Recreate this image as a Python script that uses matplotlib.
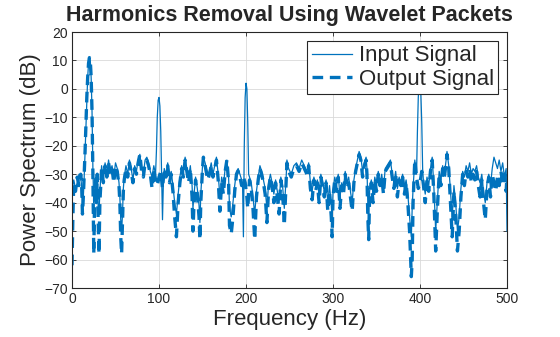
import matplotlib.pyplot as plt

plt.rcParams['font.family'] = ['Liberation Sans', 'DejaVu Sans']

# power spectrum readings as (Hz, dB) pairs
input_points = [
    (0, -36), (1, -34), (2, -32), (4, -35), (6, -33), (8, -30), (10, -31), (11, -34), (12, -41),
    (13, -38), (14, -31), (15, -22), (16, -12), (17, -3), (18, 4), (19, 9), (20, 11), (21, 10),
    (22, 4), (23, -8), (24, -28), (25, -40), (26, -36), (27, -31), (28, -38), (29, -30), (30, -41),
    (31, -44), (32, -36), (34, -27), (36, -32), (38, -26), (40, -30), (42, -25), (44, -29),
    (46, -27), (48, -31), (50, -26), (52, -28), (54, -33), (55, -38), (56, -46), (57, -50),
    (58, -44), (59, -35), (60, -31), (62, -27), (64, -30), (66, -25), (68, -28), (70, -32),
    (72, -27), (74, -29), (76, -25), (78, -23), (80, -28), (82, -30), (84, -25), (86, -24),
    (88, -26), (90, -29), (92, -31), (94, -27), (96, -30), (97, -22), (98, -10), (99, -4),
    (100, -3), (101, -6), (102, -15), (103, -30), (104, -46), (105, -33), (106, -28), (108, -30),
    (110, -26), (112, -31), (114, -29), (116, -34), (118, -40), (120, -44), (122, -37), (124, -31),
    (126, -27), (128, -30), (130, -24), (132, -28), (134, -31), (136, -27), (138, -34), (139, -42),
    (140, -38), (142, -31), (144, -35), (146, -41), (147, -47), (148, -37), (150, -27), (151, -24),
    (153, -26), (156, -30), (158, -29), (160, -26), (162, -30), (164, -27), (166, -24), (168, -30),
    (170, -38), (172, -31), (174, -34), (176, -28), (178, -25), (180, -31), (181, -42), (183, -45),
    (185, -40), (187, -34), (189, -29), (191, -28), (193, -30), (195, -32), (196, -33), (197, -52),
    (198, -20), (199, -3), (200, 2), (201, 0), (202, -12), (203, -30), (204, -31), (206, -33),
    (208, -38), (210, -44), (212, -36), (214, -31), (216, -27), (218, -29), (220, -32), (222, -35),
    (224, -42), (226, -33), (228, -30), (230, -33), (232, -37), (234, -32), (236, -36), (238, -40),
    (240, -31), (242, -34), (244, -42), (246, -32), (247, -25), (249, -28), (252, -30), (255, -27),
    (258, -26), (261, -28), (264, -25), (267, -27), (270, -29), (272, -26), (274, -33), (276, -36),
    (278, -31), (280, -34), (282, -32), (284, -37), (286, -30), (288, -33), (290, -36), (292, -32),
    (294, -40), (296, -34), (298, -41), (299, -46), (300, -36), (302, -31), (304, -34), (306, -30),
    (308, -38), (310, -33), (312, -35), (314, -29), (316, -33), (318, -31), (320, -36), (322, -40),
    (324, -32), (326, -28), (328, -25), (330, -22), (332, -24), (334, -29), (336, -26), (338, -24),
    (339, -28), (340, -40), (341, -45), (342, -36), (344, -32), (346, -37), (348, -31), (350, -34),
    (352, -29), (354, -33), (356, -30), (358, -35), (360, -28), (362, -27), (364, -26), (366, -25),
    (368, -30), (370, -33), (372, -29), (374, -35), (376, -31), (378, -33), (380, -30), (382, -35),
    (384, -32), (386, -37), (388, -45), (390, -52), (391, -42), (392, -35), (394, -25), (396, -30),
    (397, -15), (398, -3), (399, 2), (400, 2.5), (401, -2), (402, -12), (403, -28), (404, -33),
    (406, -37), (408, -31), (410, -34), (412, -28), (414, -24), (416, -35), (418, -50), (420, -39),
    (422, -29), (424, -32), (426, -27), (428, -30), (430, -25), (431, -22), (433, -27), (435, -36),
    (437, -45), (439, -34), (441, -40), (443, -50), (445, -45), (447, -35), (449, -29), (451, -31),
    (453, -27), (455, -29), (457, -26), (459, -30), (461, -28), (463, -29), (465, -27), (467, -31),
    (469, -33), (471, -30), (473, -36), (475, -40), (477, -33), (479, -30), (481, -34), (483, -28),
    (485, -24), (487, -26), (489, -28), (491, -25), (493, -29), (495, -26), (497, -31), (499, -28),
    (500, -50),
]

output_points = [
    (0, -62), (1, -45), (2, -33), (4, -36), (6, -31), (8, -34), (10, -30), (11, -33), (12, -44),
    (13, -38), (14, -30), (15, -22), (16, -12), (17, -3), (18, 4), (19, 9), (20, 11), (21, 10),
    (22, 4), (23, -8), (24, -30), (25, -58), (26, -38), (27, -32), (28, -40), (29, -30), (30, -45),
    (31, -58), (32, -40), (34, -28), (36, -33), (38, -27), (40, -31), (42, -26), (44, -30),
    (46, -28), (48, -33), (50, -27), (52, -29), (54, -34), (55, -40), (56, -52), (57, -58),
    (58, -47), (59, -36), (60, -32), (62, -28), (64, -31), (66, -26), (68, -29), (70, -33),
    (72, -28), (74, -30), (76, -26), (78, -23), (80, -29), (82, -31), (84, -26), (86, -25),
    (88, -27), (90, -30), (92, -35), (94, -28), (96, -32), (98, -34), (100, -31), (102, -29),
    (104, -35), (106, -28), (108, -31), (110, -27), (112, -33), (114, -30), (116, -36), (118, -45),
    (120, -52), (122, -40), (124, -33), (126, -28), (128, -31), (130, -25), (132, -29), (134, -33),
    (136, -28), (138, -38), (139, -50), (140, -42), (142, -32), (144, -37), (146, -45), (147, -53),
    (148, -40), (150, -28), (151, -24), (153, -27), (156, -32), (158, -30), (160, -27), (162, -31),
    (164, -28), (166, -25), (168, -32), (170, -43), (172, -33), (174, -37), (176, -29), (178, -25),
    (180, -33), (181, -48), (183, -51), (185, -45), (187, -36), (189, -30), (191, -29), (193, -31),
    (195, -34), (197, -31), (199, -33), (201, -38), (202, -42), (204, -32), (206, -35), (208, -42),
    (210, -53), (212, -38), (214, -32), (216, -28), (218, -30), (220, -33), (222, -37), (224, -47),
    (226, -35), (228, -31), (230, -34), (232, -40), (234, -33), (236, -38), (238, -44), (240, -32),
    (242, -36), (244, -48), (246, -33), (247, -26), (249, -29), (252, -31), (255, -28), (258, -27),
    (261, -29), (264, -26), (267, -28), (270, -30), (272, -27), (274, -35), (276, -39), (278, -32),
    (280, -36), (282, -33), (284, -40), (286, -31), (288, -34), (290, -38), (292, -33), (294, -43),
    (296, -36), (298, -45), (299, -52), (300, -38), (302, -32), (304, -36), (306, -31), (308, -42),
    (310, -34), (312, -37), (314, -30), (316, -35), (318, -33), (320, -38), (322, -43), (324, -33),
    (326, -29), (328, -26), (330, -23), (332, -25), (334, -31), (336, -27), (338, -25), (339, -30),
    (340, -45), (341, -53), (342, -38), (344, -33), (346, -40), (348, -32), (350, -36), (352, -30),
    (354, -34), (356, -31), (358, -37), (360, -29), (362, -28), (364, -27), (366, -26), (368, -31),
    (370, -35), (372, -30), (374, -38), (376, -32), (378, -34), (380, -31), (382, -37), (384, -33),
    (386, -40), (388, -50), (390, -66), (391, -60), (392, -40), (394, -25), (396, -31), (398, -35),
    (400, -33), (402, -29), (404, -34), (406, -40), (408, -32), (410, -36), (412, -29), (414, -25),
    (416, -38), (418, -57), (420, -42), (422, -30), (424, -34), (426, -28), (428, -31), (430, -26),
    (431, -23), (433, -28), (435, -40), (437, -52), (439, -36), (441, -44), (443, -57), (445, -50),
    (447, -38), (449, -30), (451, -34), (453, -29), (455, -31), (457, -28), (459, -33), (461, -30),
    (463, -32), (465, -29), (467, -34), (469, -38), (471, -32), (473, -40), (475, -46), (477, -35),
    (479, -31), (481, -38), (483, -30), (485, -33), (487, -36), (489, -31), (491, -34), (493, -29),
    (495, -33), (497, -30), (499, -36), (500, -30),
]

input_freq, input_db = zip(*input_points)
output_freq, output_db = zip(*output_points)

blue = (0, 0.447, 0.741)
dark = (0.15, 0.15, 0.15)

fig = plt.figure(figsize=(5.6, 3.37), dpi=100)
ax = fig.add_axes([0.1286, 0.1454, 0.7768, 0.7596])

ax.plot(input_freq, input_db, color=blue, linewidth=0.9, label='Input Signal')
ax.plot(output_freq, output_db, color=blue, linewidth=2.4, linestyle=(0, (3.2, 2.0)),
        label='Output Signal')

ax.set_xlim(0, 500)
ax.set_ylim(-70, 20)
ax.set_xticks(range(0, 501, 100))
ax.set_yticks(range(-70, 21, 10))
ax.grid(True, color=(0.85, 0.85, 0.85), linewidth=0.6)
ax.set_axisbelow(True)
ax.tick_params(direction='in', length=3, width=0.6, top=True, right=True,
               labelsize=10, colors=dark, labelcolor=dark, pad=3)
for side in ax.spines.values():
    side.set_color(dark)
    side.set_linewidth(0.8)

ax.set_xlabel('Frequency (Hz)', fontsize=16, color=dark, labelpad=2)
ax.set_ylabel('Power Spectrum (dB)', fontsize=16, color=dark, labelpad=2)
ax.set_title('Harmonics Removal Using Wavelet Packets', fontsize=15.5, fontweight='bold',
             color=dark, pad=8)

leg = ax.legend(loc='upper right', fontsize=16, frameon=True, fancybox=False,
                edgecolor=dark, framealpha=1, borderpad=0.2, labelspacing=0.12,
                handlelength=1.8, handletextpad=0.3, borderaxespad=0.4)
leg.get_frame().set_linewidth(0.8)
for t in leg.get_texts():
    t.set_color(dark)

fig.savefig('out.png', dpi=100)
